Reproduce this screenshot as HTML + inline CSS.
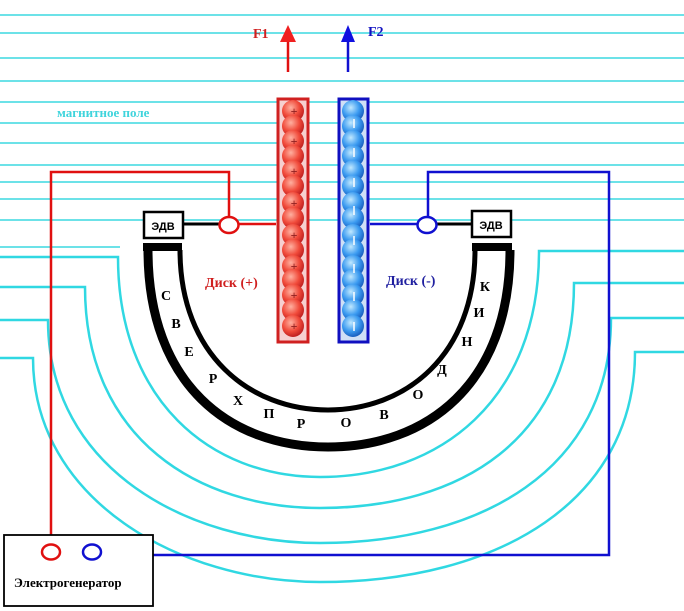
<!DOCTYPE html>
<html><head><meta charset="utf-8"><style>
html,body{margin:0;padding:0;background:#fff;}
svg{display:block;}
text{font-family:"Liberation Serif","DejaVu Serif",serif;font-weight:bold;}
</style></head><body>
<svg width="684" height="611" viewBox="0 0 684 611" xmlns="http://www.w3.org/2000/svg">
<defs>
<radialGradient id="rb" cx="0.4" cy="0.35" r="0.65"><stop offset="0" stop-color="#ffb0a0"/><stop offset="0.6" stop-color="#f04a3a"/><stop offset="1" stop-color="#c02020"/></radialGradient>
<radialGradient id="bb" cx="0.4" cy="0.35" r="0.65"><stop offset="0" stop-color="#c0e8ff"/><stop offset="0.6" stop-color="#3a9af0"/><stop offset="1" stop-color="#1a60c0"/></radialGradient>
</defs>
<g stroke="#3cd8e0" stroke-width="1.6">
<line x1="0" y1="15" x2="684" y2="15"/>
<line x1="0" y1="33" x2="684" y2="33"/>
<line x1="0" y1="58" x2="684" y2="58"/>
<line x1="0" y1="81" x2="684" y2="81"/>
<line x1="0" y1="102" x2="684" y2="102"/>
<line x1="0" y1="123" x2="684" y2="123"/>
<line x1="0" y1="143" x2="684" y2="143"/>
<line x1="0" y1="165" x2="684" y2="165"/>
<line x1="0" y1="182" x2="684" y2="182"/>
<line x1="0" y1="199" x2="684" y2="199"/>
<line x1="0" y1="220" x2="684" y2="220"/>
<line x1="0" y1="247" x2="120" y2="247"/>
</g>
<g fill="none" stroke="#30d8e2" stroke-width="2.5">
<path d="M0,257 H118 C118,400 210,477 320,477 C440,477 539,400 539,251 H684"/>
<path d="M0,287 H85 C85,440 200,508 320,508 C460,508 574,440 574,283 H684"/>
<path d="M0,320 H48 C48,470 190,543 320,543 C480,543 611,470 611,318 H684"/>
<path d="M0,358 H33 C33,500 180,582 320,582 C500,582 635,500 635,352 H684"/>
</g>
<text x="57" y="117" font-size="13" fill="#3fd4dc">магнитное поле</text>
<text x="253" y="38" font-size="14" fill="#d02020">F1</text>
<text x="368" y="36" font-size="14" fill="#1010c0">F2</text>
<line x1="288" y1="40" x2="288" y2="72" stroke="#e01010" stroke-width="2.5"/>
<polygon points="288,25 280,42 296,42" fill="#f02020"/>
<line x1="348" y1="40" x2="348" y2="72" stroke="#1010d0" stroke-width="2.5"/>
<polygon points="348,25 341,42 355,42" fill="#1010e0"/>
<path d="M148,250 C148,385 230,447 328,447 C426,447 510,385 510,250" fill="none" stroke="#000" stroke-width="9"/>
<path d="M180,250 C180,355 250,410 328,410 C406,410 475,355 475,250" fill="none" stroke="#000" stroke-width="5"/>
<rect x="143" y="243" width="39" height="8" fill="#000"/>
<rect x="472" y="243" width="40" height="8" fill="#000"/>
<g font-size="14" fill="#000" text-anchor="middle">
<text x="166" y="300">С</text><text x="176" y="328">В</text><text x="189" y="356">Е</text><text x="213" y="383">Р</text><text x="238" y="405">Х</text><text x="269" y="418">П</text><text x="301" y="428">Р</text><text x="346" y="427">О</text><text x="384" y="419">В</text><text x="418" y="399">О</text><text x="442" y="374">Д</text><text x="467" y="346">Н</text><text x="479" y="317">И</text><text x="485" y="291">К</text>
</g>
<text x="205" y="287" font-size="14" fill="#d02020">Диск (+)</text>
<text x="386" y="285" font-size="14" fill="#2020a0">Диск (-)</text>
<rect x="278" y="99" width="30" height="243" fill="#f6d0d0" stroke="#d02020" stroke-width="3"/>
<g fill="url(#rb)">
<circle cx="293" cy="111" r="11"/><circle cx="293" cy="126" r="11"/><circle cx="293" cy="141" r="11"/><circle cx="293" cy="156" r="11"/><circle cx="293" cy="171" r="11"/><circle cx="293" cy="186" r="11"/><circle cx="293" cy="203" r="11"/><circle cx="293" cy="218" r="11"/><circle cx="293" cy="235" r="11"/><circle cx="293" cy="250" r="11"/><circle cx="293" cy="266" r="11"/><circle cx="293" cy="280" r="11"/><circle cx="293" cy="295" r="11"/><circle cx="293" cy="310" r="11"/><circle cx="293" cy="326" r="11"/>
</g>
<g font-size="12" fill="#902020" text-anchor="middle">
<text x="294" y="115">+</text><text x="294" y="145">+</text><text x="294" y="175">+</text><text x="294" y="207">+</text><text x="294" y="239">+</text><text x="294" y="270">+</text><text x="294" y="299">+</text><text x="294" y="330">+</text>
</g>
<rect x="339" y="99" width="29" height="243" fill="#d0e0f6" stroke="#1010c0" stroke-width="3"/>
<g fill="url(#bb)">
<circle cx="353" cy="111" r="11"/><circle cx="353" cy="126" r="11"/><circle cx="353" cy="141" r="11"/><circle cx="353" cy="156" r="11"/><circle cx="353" cy="171" r="11"/><circle cx="353" cy="186" r="11"/><circle cx="353" cy="203" r="11"/><circle cx="353" cy="218" r="11"/><circle cx="353" cy="235" r="11"/><circle cx="353" cy="250" r="11"/><circle cx="353" cy="266" r="11"/><circle cx="353" cy="280" r="11"/><circle cx="353" cy="295" r="11"/><circle cx="353" cy="310" r="11"/><circle cx="353" cy="326" r="11"/>
</g>
<g stroke="#fff" stroke-width="1.5">
<line x1="354" y1="119" x2="354" y2="128"/><line x1="354" y1="148" x2="354" y2="157"/><line x1="354" y1="178" x2="354" y2="187"/><line x1="354" y1="206" x2="354" y2="215"/><line x1="354" y1="236" x2="354" y2="245"/><line x1="354" y1="264" x2="354" y2="273"/><line x1="354" y1="292" x2="354" y2="301"/><line x1="354" y1="322" x2="354" y2="331"/>
</g>
<polyline points="51,545 51,172 229,172 229,216" fill="none" stroke="#e01010" stroke-width="2.5"/>
<line x1="239" y1="224" x2="276" y2="224" stroke="#e01010" stroke-width="2.5"/>
<polyline points="101,555 609,555 609,172 428,172 428,216" fill="none" stroke="#1010d0" stroke-width="2.5"/>
<line x1="370" y1="224" x2="418" y2="224" stroke="#1010d0" stroke-width="2.5"/>
<line x1="184" y1="224" x2="219" y2="224" stroke="#000" stroke-width="3"/>
<line x1="437" y1="224" x2="471" y2="224" stroke="#000" stroke-width="3"/>
<ellipse cx="229" cy="225" rx="9.5" ry="8" fill="#fff" stroke="#e01010" stroke-width="2.5"/>
<ellipse cx="427" cy="225" rx="9.5" ry="8" fill="#fff" stroke="#1010d0" stroke-width="2.5"/>
<rect x="144" y="212" width="39" height="26" fill="#fff" stroke="#000" stroke-width="2.5"/>
<text x="163" y="230" font-size="11" fill="#000" text-anchor="middle" font-weight="normal" style="font-family:'Liberation Sans',sans-serif">ЭДВ</text>
<rect x="472" y="211" width="39" height="26" fill="#fff" stroke="#000" stroke-width="2.5"/>
<text x="491" y="229" font-size="11" fill="#000" text-anchor="middle" font-weight="normal" style="font-family:'Liberation Sans',sans-serif">ЭДВ</text>
<rect x="4" y="535" width="149" height="71" fill="#fff" stroke="#000" stroke-width="1.8"/>
<ellipse cx="51" cy="552" rx="9" ry="7.5" fill="#fff" stroke="#e01010" stroke-width="2.5"/>
<ellipse cx="92" cy="552" rx="9" ry="7.5" fill="#fff" stroke="#1010d0" stroke-width="2.5"/>
<text x="14" y="587" font-size="13" fill="#000">Электрогенератор</text>
</svg>
</body></html>
